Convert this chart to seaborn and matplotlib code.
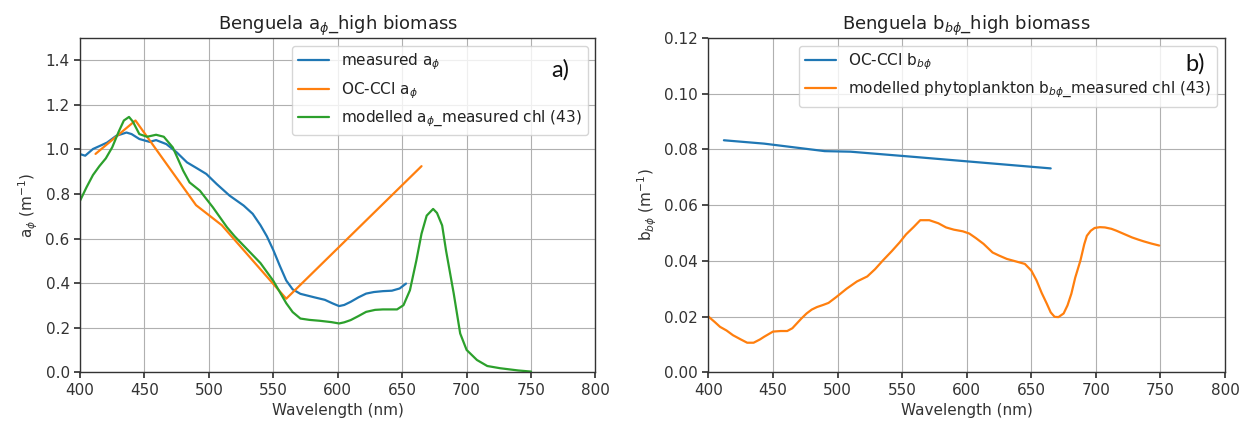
import numpy as np
import pandas as pd
import matplotlib
matplotlib.use("Agg")
import matplotlib.pyplot as plt
import seaborn as sns

# ---------------- data ----------------
# Panel a) measured phytoplankton absorption
wl_meas_a = [400, 404, 410, 415, 421, 428, 436, 440, 446, 454, 459, 467, 475, 483, 490, 498,
             506, 516, 527, 534, 540, 545, 550, 555, 560, 565, 571, 582, 590, 596, 601, 605,
             610, 616, 622, 628, 635, 642, 648, 653]
meas_a = [0.979, 0.972, 1.002, 1.015, 1.031, 1.061, 1.076, 1.069, 1.047, 1.034, 1.042, 1.024,
          0.987, 0.942, 0.918, 0.890, 0.845, 0.793, 0.748, 0.711, 0.660, 0.610, 0.548, 0.478,
          0.412, 0.372, 0.352, 0.336, 0.325, 0.309, 0.297, 0.302, 0.316, 0.336, 0.353, 0.360,
          0.364, 0.366, 0.376, 0.398]

# OC-CCI bands
wl_occci = [412, 443, 490, 510, 560, 665]
occci_a = [0.98, 1.13, 0.75, 0.66, 0.33, 0.925]
occci_bb = [0.0833, 0.0821, 0.0794, 0.0792, 0.0773, 0.0732]

# modelled a_phi from measured chl
wl_mod_a = [400, 405, 410, 415, 420, 425, 430, 434, 438, 441, 446, 452, 459, 465, 472, 480,
            485, 493, 503, 514, 520, 530, 540, 550, 555, 560, 565, 571, 578, 586, 595, 601,
            605, 610, 616, 622, 629, 635, 646, 651, 656, 661, 665, 669, 674, 677, 681, 684,
            690, 695, 700, 708, 716, 726, 740, 750]
mod_a = [0.770, 0.830, 0.885, 0.925, 0.960, 1.010, 1.080, 1.130, 1.146, 1.125, 1.069, 1.057,
         1.066, 1.057, 1.009, 0.905, 0.852, 0.815, 0.741, 0.651, 0.610, 0.550, 0.490, 0.410,
         0.360, 0.310, 0.270, 0.241, 0.235, 0.231, 0.225, 0.219, 0.224, 0.234, 0.252, 0.271,
         0.280, 0.282, 0.282, 0.301, 0.368, 0.502, 0.622, 0.703, 0.733, 0.715, 0.659, 0.547,
         0.353, 0.174, 0.100, 0.055, 0.028, 0.018, 0.008, 0.003]

# Panel b) modelled phytoplankton backscattering
wl_mod_bb = [400, 405, 409, 414, 419, 425, 430, 435, 440, 443, 450, 456, 461, 465, 468, 472,
             476, 480, 484, 489, 493, 499, 507, 515, 523, 529, 535, 542, 548, 553, 559, 564,
             571, 578, 584, 590, 597, 602, 607, 613, 620, 625, 631, 638, 645, 650, 654, 658,
             662, 665, 668, 671, 675, 678, 681, 684, 688, 691, 693, 696, 699, 703, 707, 712,
             716, 722, 728, 733, 737, 743, 749]
mod_bb = [0.0200, 0.0180, 0.0163, 0.0150, 0.0133, 0.0118, 0.0106, 0.0106, 0.0118, 0.0127,
          0.0146, 0.0148, 0.0148, 0.0158, 0.0173, 0.0193, 0.0211, 0.0225, 0.0234, 0.0242,
          0.0249, 0.0270, 0.0300, 0.0326, 0.0344, 0.0370, 0.0401, 0.0435, 0.0466, 0.0495,
          0.0522, 0.0546, 0.0546, 0.0535, 0.0520, 0.0512, 0.0506, 0.0498, 0.0482, 0.0461,
          0.0430, 0.0419, 0.0407, 0.0398, 0.0389, 0.0365, 0.0330, 0.0285, 0.0246, 0.0215,
          0.0199, 0.0198, 0.0211, 0.0240, 0.0282, 0.0340, 0.0401, 0.0460, 0.0490, 0.0508,
          0.0518, 0.0521, 0.0520, 0.0515, 0.0508, 0.0496, 0.0484, 0.0476, 0.0470, 0.0462,
          0.0455]

xticks = [400, 450, 500, 550, 600, 650, 700, 750, 800]

# ---------------- style ----------------
sns.set_theme(style="ticks", rc={
    "axes.grid": True,
    "grid.color": "#b0b0b0",
    "grid.linewidth": 0.8,
    "axes.edgecolor": "#333333",
    "axes.linewidth": 1.0,
    "xtick.color": "#333333",
    "ytick.color": "#333333",
    "axes.labelcolor": "#333333",
    "text.color": "#222222",
})
plt.rcParams["font.family"] = ["DejaVu Sans"]
plt.rcParams["font.size"] = 11
plt.rcParams["mathtext.fontset"] = "dejavusans"

c_blue, c_orange, c_green = sns.color_palette("tab10")[:3]
LW = 1.6

fig = plt.figure(figsize=(12.45, 4.23), dpi=100)
ax1 = fig.add_axes([0.0643, 0.120, 0.4140, 0.790])
ax2 = fig.add_axes([0.5690, 0.120, 0.4150, 0.790])

# panel a
sns.lineplot(x=wl_meas_a, y=meas_a, ax=ax1, color=c_blue, lw=LW, label=r"measured a$_\phi$")
sns.lineplot(x=wl_occci, y=occci_a, ax=ax1, color=c_orange, lw=LW, label=r"OC-CCI a$_\phi$")
sns.lineplot(x=wl_mod_a, y=mod_a, ax=ax1, color=c_green, lw=LW,
             label=r"modelled a$_\phi$_measured chl (43)")
ax1.set_xlim(400, 800)
ax1.set_ylim(0, 1.5)
ax1.set_xticks(xticks)
ax1.set_yticks([0.0, 0.2, 0.4, 0.6, 0.8, 1.0, 1.2, 1.4])
ax1.set_xlabel("Wavelength (nm)", fontsize=11)
ax1.set_ylabel(r"a$_\phi$ (m$^{-1}$)", fontsize=11)
ax1.set_title(r"Benguela a$_\phi$_high biomass", fontsize=13)
ax1.legend(loc="upper right", fontsize=11, framealpha=0.8)
ax1.text(0.931, 0.905, "a)", transform=ax1.transAxes, fontsize=17, family="Lato",
         ha="center", va="center", color="#111111", zorder=20)

# panel b
sns.lineplot(x=wl_occci, y=occci_bb, ax=ax2, color=c_blue, lw=LW, label=r"OC-CCI b$_{b\phi}$")
sns.lineplot(x=wl_mod_bb, y=mod_bb, ax=ax2, color=c_orange, lw=LW,
             label=r"modelled phytoplankton b$_{b\phi}$_measured chl (43)")
ax2.set_xlim(400, 800)
ax2.set_ylim(0, 0.12)
ax2.set_xticks(xticks)
ax2.set_yticks([0.0, 0.02, 0.04, 0.06, 0.08, 0.10, 0.12])
ax2.yaxis.set_major_formatter(matplotlib.ticker.FormatStrFormatter("%.2f"))
ax2.set_xlabel("Wavelength (nm)", fontsize=11)
ax2.set_ylabel(r"b$_{b\phi}$ (m$^{-1}$)", fontsize=11)
ax2.set_title(r"Benguela b$_{b\phi}$_high biomass", fontsize=13)
ax2.legend(loc="upper right", fontsize=11, framealpha=0.8)
ax2.text(0.942, 0.922, "b)", transform=ax2.transAxes, fontsize=17, family="Lato",
         ha="center", va="center", color="#111111", zorder=20)

for ax in (ax1, ax2):
    ax.tick_params(labelsize=11, length=4)
    for s in ax.spines.values():
        s.set_visible(True)

fig.savefig("out.png", dpi=100)
